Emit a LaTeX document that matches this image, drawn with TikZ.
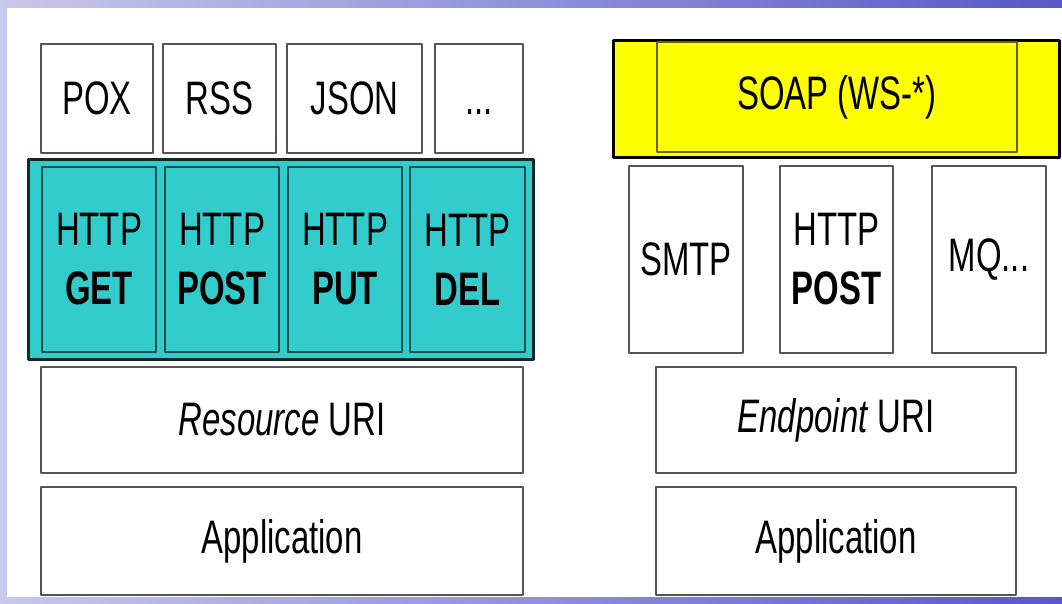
\documentclass[tikz,border=0pt]{standalone}
\usepackage{fontspec}
\setmainfont[FakeStretch=0.70]{Liberation Sans}
\usepackage{tikz}
\definecolor{slideleft}{RGB}{200,200,236}
\definecolor{slideright}{RGB}{88,88,200}
\definecolor{boxline}{RGB}{85,85,85}
\definecolor{tealfill}{RGB}{51,204,204}
\definecolor{tealline}{RGB}{20,80,80}
\definecolor{bandline}{RGB}{15,40,40}
\definecolor{soapfill}{RGB}{255,255,0}
\definecolor{soapline}{RGB}{100,100,0}

\begin{document}
\begin{tikzpicture}[x=1pt, y=-1pt, line join = round,
  layertext/.style={font=\fontsize{47}{59}\selectfont, align=center, inner sep=0pt},
  whitebox/.style={layertext, draw=boxline, line width=1.8pt, fill=white},
  verbbox/.style={layertext, draw=tealline, line width=1.4pt, fill=tealfill},
  soapbox/.style={layertext, draw=soapline, line width=1.4pt, fill=soapfill}]

\useasboundingbox (0,0) rectangle (1062,604);

% slide background
\fill[left color=slideleft, right color=slideright] (0,0) rectangle (1062,604);
\fill[white] (7,8) rectangle (1062,597);

% REST stack: formats
\node[whitebox, minimum width=112, minimum height=109] (pox) at (97,98.5) {POX};
\node[whitebox, minimum width=113, minimum height=109] (rss) at (219.5,98.5) {RSS};
\node[whitebox, minimum width=135, minimum height=109] (json) at (354.5,98.5) {JSON};
\node[whitebox, minimum width=88, minimum height=109] (more) at (479,98.5) {\vphantom{POX}...};

% REST stack: uniform interface (teal band)
\draw[draw=bandline, line width=3pt, fill=tealfill] (28,160) rectangle (533,359); % band
\node[verbbox, minimum width=114, minimum height=185] (get) at (99,259.5) {HTTP\\\textbf{GET}};
\node[verbbox, minimum width=114, minimum height=185] (post) at (222,259.5) {HTTP\\\textbf{POST}};
\node[verbbox, minimum width=114, minimum height=185] (put) at (345,259.5) {HTTP\\\textbf{PUT}};
\node[verbbox, minimum width=115, minimum height=185] (del) at (467.5,259.5) {HTTP\\\textbf{DEL}};

% REST stack: addressing and application
\node[whitebox, minimum width=482, minimum height=106] (resuri) at (282,420) {\textit{Resource} URI};
\node[whitebox, minimum width=482, minimum height=108] (resapp) at (282,541) {Application};

% SOAP stack: envelope (yellow band)
\draw[draw=black, line width=3pt, fill=soapfill] (613,41) rectangle (1059,158); % band
\node[soapbox, minimum width=360, minimum height=110] (soap) at (837,97) {SOAP (WS-*)};

% SOAP stack: transports
\node[whitebox, minimum width=114, minimum height=187] (smtp) at (686,259.5) {SMTP};
\node[whitebox, minimum width=113, minimum height=187] (httppost) at (836.5,259.5) {HTTP\\\textbf{POST}};
\node[whitebox, minimum width=114, minimum height=187] (mq) at (989,259.5) {MQ...};

% SOAP stack: addressing and application
\node[whitebox, minimum width=360, minimum height=106] (epuri) at (836,420) {\textit{Endpoint} URI};
\node[whitebox, minimum width=360, minimum height=108] (epapp) at (836,541) {Application};

\end{tikzpicture}
\end{document}
